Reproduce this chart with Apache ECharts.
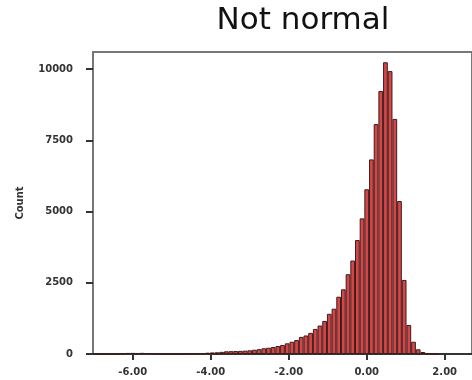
<!DOCTYPE html>
<html>
<head>
<meta charset="utf-8">
<script src="https://cdn.jsdelivr.net/npm/echarts@6/dist/echarts.min.js"></script>
<style>
  html, body { margin: 0; padding: 0; background: #fff; }
  #chart { width: 472px; height: 380px; }
</style>
</head>
<body>
<div id="chart"></div>
<script>
// histogram bins: width 0.12, first bin centred at -6.96
const binWidth = 0.12;
const firstCenter = -6.96;
const counts = [
  3, 3, 4, 5, 8, 15, 30, 38, 40, 36, 40, 35, 28, 14, 10, 8, 8, 10, 10, 12,
  12, 15, 20, 30, 45, 55, 60, 75, 95, 100, 105, 110, 118, 130, 150, 170,
  200, 220, 245, 280, 316, 375, 430, 490, 600, 650, 740, 880, 1000, 1160,
  1410, 1590, 2010, 2270, 2800, 3280, 4000, 4760, 5780, 6830, 8070, 9230,
  10240, 9930, 8250, 5370, 2600, 1020, 430, 165, 70, 30, 12, 5
];
const xTicks = [-6, -4, -2, 0, 2];
const yTicks = [0, 2500, 5000, 7500, 10000];

const bars = counts.map((c, i) => [+(firstCenter + i * binWidth).toFixed(2), c]);

const chart = echarts.init(document.getElementById('chart'));
chart.setOption({
  animation: false,
  title: {
    text: 'Not normal',
    left: 303,
    top: 5,
    padding: 0,
    textAlign: 'center',
    textStyle: { fontFamily: 'DejaVu Sans', fontWeight: 'normal', fontSize: 31, color: '#111' }
  },
  grid: {
    left: 93, top: 52, width: 383.4, height: 302,
    show: true, borderColor: '#777', borderWidth: 2, backgroundColor: '#fff'
  },
  xAxis: {
    type: 'value',
    min: -7.02,
    max: 2.70,
    splitLine: { show: false },
    axisLine: { show: true, onZero: false, lineStyle: { color: '#333', width: 2 } },
    axisTick: { show: true, length: 6, customValues: xTicks, lineStyle: { color: '#333', width: 2 } },
    axisLabel: {
      customValues: xTicks,
      margin: 13,
      formatter: v => v.toFixed(2),
      fontFamily: 'DejaVu Sans', fontWeight: 'bold', fontSize: 10, color: '#333'
    }
  },
  yAxis: {
    type: 'value',
    min: 0,
    max: 10600,
    name: 'Count',
    nameLocation: 'middle',
    nameRotate: 90,
    nameGap: 68,
    nameTextStyle: { fontFamily: 'DejaVu Sans', fontWeight: 'bold', fontSize: 10, color: '#333' },
    splitLine: { show: false },
    axisLine: { show: true, onZero: false, lineStyle: { color: '#777', width: 2 } },
    axisTick: { show: true, length: 7, customValues: yTicks, lineStyle: { color: '#333', width: 2 } },
    axisLabel: {
      customValues: yTicks,
      margin: 20,
      formatter: v => String(v),
      fontFamily: 'DejaVu Sans', fontWeight: 'bold', fontSize: 10, color: '#333'
    }
  },
  series: [{
    type: 'bar',
    data: bars,
    barWidth: 4.73,
    itemStyle: { color: '#d64646', borderColor: '#3e1c1c', borderWidth: 1 }
  }]
});
</script>
</body>
</html>
